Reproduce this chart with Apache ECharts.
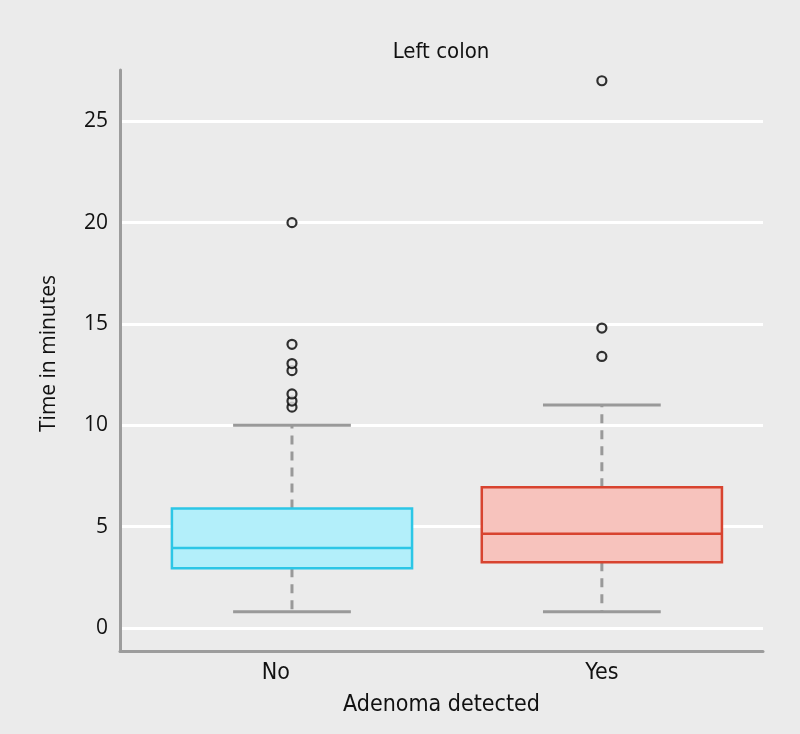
<!DOCTYPE html>
<html>
<head>
<meta charset="utf-8">
<script src="https://cdn.jsdelivr.net/npm/echarts@6/dist/echarts.min.js"></script>
<style>
  html, body { margin: 0; padding: 0; background: #ebebeb; }
  #chart { width: 800px; height: 734px; }
</style>
</head>
<body>
<div id="chart"></div>
<script>
// data
const categories = ['No', 'Yes'];
const lowWhisker = [0.8, 0.8];
const q1 = [2.95, 3.25];
const median = [3.95, 4.65];
const q3 = [5.9, 6.95];
const highWhisker = [10.0, 11.0];
const outliersNo = [10.9, 11.2, 11.55, 12.7, 13.05, 14.0, 20.0];
const outliersYes = [13.4, 14.8, 27.0];
const yTicks = [0, 5, 10, 15, 20, 25];

const boxFill = ['#b3effa', '#f7c3bd'];
const boxLine = ['#2cc6e6', '#d8432f'];
const grey = '#999999';
const narrow = "'Liberation Sans Narrow', 'DejaVu Sans Condensed', 'Roboto Condensed', 'Open Sans', sans-serif";

const chart = echarts.init(document.getElementById('chart'));

const boxData = categories.map((c, i) => [i + 1, lowWhisker[i], q1[i], median[i], q3[i], highWhisker[i], i]);
const outlierData = [];
outliersNo.forEach(v => outlierData.push([1, v]));
outliersYes.forEach(v => outlierData.push([2, v]));

function renderBox(params, api) {
  const x = api.value(0);
  const idx = api.value(6);
  const pLow = api.coord([x, api.value(1)]);
  const pQ1 = api.coord([x, api.value(2)]);
  const pMed = api.coord([x, api.value(3)]);
  const pQ3 = api.coord([x, api.value(4)]);
  const pHigh = api.coord([x, api.value(5)]);
  const boxW = api.size([0.775, 0])[0];
  const capW = api.size([0.38, 0])[0];
  const cx = pMed[0];
  const dash = { stroke: grey, lineWidth: 3, lineDash: [9, 7] };
  const solid = { stroke: grey, lineWidth: 3 };
  return {
    type: 'group',
    children: [
      { type: 'line', shape: { x1: cx, y1: pQ3[1], x2: cx, y2: pHigh[1] }, style: dash },
      { type: 'line', shape: { x1: cx, y1: pQ1[1], x2: cx, y2: pLow[1] }, style: dash },
      { type: 'line', shape: { x1: cx - capW / 2, y1: pHigh[1], x2: cx + capW / 2, y2: pHigh[1] }, style: solid },
      { type: 'line', shape: { x1: cx - capW / 2, y1: pLow[1], x2: cx + capW / 2, y2: pLow[1] }, style: solid },
      {
        type: 'rect',
        shape: { x: cx - boxW / 2, y: pQ3[1], width: boxW, height: pQ1[1] - pQ3[1] },
        style: { fill: boxFill[idx], stroke: boxLine[idx], lineWidth: 2.5 }
      },
      { type: 'line', shape: { x1: cx - boxW / 2, y1: pMed[1], x2: cx + boxW / 2, y2: pMed[1] }, style: { stroke: boxLine[idx], lineWidth: 2.5 } }
    ]
  };
}

chart.setOption({
  backgroundColor: '#ebebeb',
  animation: false,
  title: {
    text: 'Left colon',
    left: 436,
    textAlign: 'center',
    top: 36,
    textStyle: { fontFamily: narrow, fontSize: 22, fontWeight: 'normal', color: '#111' }
  },
  grid: { left: 120, right: 37, top: 70, bottom: 83 },
  xAxis: {
    type: 'value',
    min: 0.445,
    max: 2.52,
    name: 'Adenoma detected',
    nameLocation: 'middle',
    nameGap: 43,
    nameTextStyle: { fontFamily: narrow, fontSize: 23, color: '#111' },
    axisLine: { show: true, onZero: false, lineStyle: { color: '#9c9c9c', width: 3 } },
    axisTick: { show: false },
    splitLine: { show: false },
    axisLabel: {
      // the "No" label sits a little left of its box in the figure
      customValues: [0.948, 2],
      formatter: v => categories[Math.round(v) - 1],
      margin: 11,
      fontFamily: narrow,
      fontSize: 23,
      color: '#111'
    }
  },
  yAxis: {
    type: 'value',
    min: -1.13,
    max: 27.53,
    name: 'Time in minutes',
    nameLocation: 'middle',
    nameGap: 60,
    nameTextStyle: { fontFamily: 'Open Sans', fontSize: 21, color: '#111', padding: [0, 0, 0, 14] },
    axisLine: { show: true, onZero: false, lineStyle: { color: '#9c9c9c', width: 3 } },
    axisTick: { show: false, customValues: yTicks },
    axisLabel: { customValues: yTicks, margin: 12, fontFamily: 'Open Sans', fontSize: 21, color: '#111' },
    splitLine: { show: true, lineStyle: { color: '#ffffff', width: 3 } }
  },
  series: [
    {
      type: 'custom',
      renderItem: renderBox,
      encode: { x: 0, y: [1, 2, 3, 4, 5] },
      data: boxData,
      z: 2
    },
    {
      type: 'scatter',
      data: outlierData,
      symbol: 'circle',
      symbolSize: 9,
      itemStyle: { color: '#ebebeb', borderColor: '#000', borderWidth: 2.2 },
      z: 3
    }
  ]
});
</script>
</body>
</html>
